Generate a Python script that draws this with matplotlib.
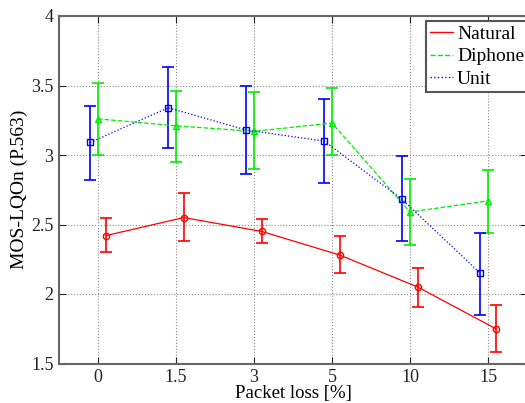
import numpy as np
import matplotlib
matplotlib.use("Agg")
import matplotlib.pyplot as plt
from matplotlib.lines import Line2D

plt.rcParams['font.family'] = ['Liberation Serif', 'DejaVu Serif']

# packet loss categories
loss_labels = ['0', '1.5', '3', '5', '10', '15']

natural = [2.42, 2.55, 2.45, 2.28, 2.05, 1.75]
natural_hi = [2.55, 2.73, 2.54, 2.42, 2.19, 1.92]
natural_lo = [2.30, 2.38, 2.37, 2.15, 1.91, 1.58]

diphone = [3.26, 3.21, 3.17, 3.23, 2.59, 2.67]
diphone_hi = [3.52, 3.46, 3.45, 3.48, 2.83, 2.89]
diphone_lo = [3.00, 2.95, 2.90, 3.00, 2.35, 2.44]

unit = [3.09, 3.34, 3.18, 3.10, 2.68, 2.15]
unit_hi = [3.35, 3.63, 3.50, 3.40, 2.99, 2.44]
unit_lo = [2.82, 3.05, 2.86, 2.80, 2.38, 1.85]

x = np.arange(1, len(loss_labels) + 1)

fig = plt.figure(figsize=(5.25, 4.03), dpi=100)
ax = fig.add_axes([59 / 525, 1 - 363.5 / 403, 468 / 525, 347.5 / 403])

handles = []
def draw(xs, y, lo, hi, color, ls, marker, label):
    y = np.array(y)
    err = [y - np.array(lo), np.array(hi) - y]
    ax.errorbar(xs, y, yerr=err, fmt='none', ecolor=color, elinewidth=1.2,
                capsize=4, capthick=1.2, zorder=3)
    ax.plot(xs, y, color=color, linestyle=ls, linewidth=0.9, marker=marker,
            markersize=4.5, markerfacecolor='none', markeredgecolor=color,
            markeredgewidth=1.0, zorder=4)
    handles.append(Line2D([], [], color=color, linestyle=ls, linewidth=1.0,
                          label=label))

draw(x + 0.1, natural, natural_lo, natural_hi, '#ff0000', '-', 'o', 'Natural')
draw(x, diphone, diphone_lo, diphone_hi, '#00ee00', '--', '^', 'Diphone')
draw(x - 0.1, unit, unit_lo, unit_hi, '#0000ff', ':', 's', 'Unit')

ax.set_xlim(0.5, 6.5)
ax.set_ylim(1.5, 4)
ax.set_xticks(x)
ax.set_xticklabels(loss_labels)
ax.set_yticks([1.5, 2, 2.5, 3, 3.5, 4])
ax.set_yticklabels(['1.5', '2', '2.5', '3', '3.5', '4'])
ax.tick_params(direction='in', top=True, right=True, labelsize=13, length=5,
               width=0.8, colors='#222222', pad=4)
ax.grid(True, color='#888888', linestyle=':', linewidth=0.8)
for s in ax.spines.values():
    s.set_color('#666666')
    s.set_linewidth(1.5)

ax.set_xlabel('Packet loss [%]', fontsize=13.5, labelpad=-1)
ax.set_ylabel('MOS-LQOn (P.563)', fontsize=14, labelpad=2)

leg = ax.legend(handles=handles, loc='upper right',
                bbox_to_anchor=(1.0 + 3 / 468, 0.99), fontsize=14,
                fancybox=False, framealpha=1, edgecolor='#555555',
                borderpad=0.2, labelspacing=0.25, handlelength=1.2,
                handletextpad=0.2, borderaxespad=0.1)
leg.get_frame().set_linewidth(1.5)

fig.savefig('out.png', dpi=100)
